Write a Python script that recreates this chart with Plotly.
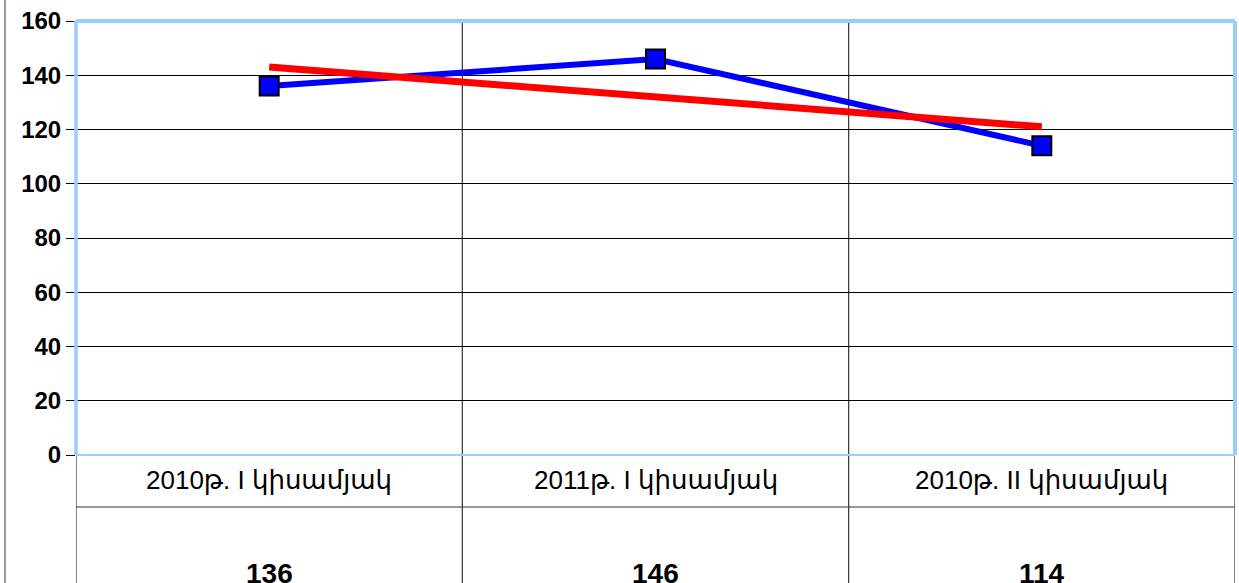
import plotly.graph_objects as go

categories = ["2010թ. I կիսամյակ", "2011թ. I կիսամյակ", "2010թ. II կիսամյակ"]
values = [136, 146, 114]
trend = [143, 132, 121]
y_ticks = [0, 20, 40, 60, 80, 100, 120, 140, 160]

W, H = 1239, 583
L, T = 76, 21
R = W - 1235
B = H - 455

ph = H - T - B
pw = W - L - R

def py(pix):
    return (H - B - pix) / ph

def px(pix):
    return (pix - L) / pw

xpos = list(range(len(categories)))

fig = go.Figure()
fig.add_trace(go.Scatter(
    x=xpos, y=values, mode="lines+markers",
    line=dict(color="#0000FF", width=6),
    marker=dict(symbol="square", size=19, color="#0000FF", line=dict(color="black", width=2)),
    showlegend=False))
fig.add_trace(go.Scatter(
    x=xpos, y=trend, mode="lines",
    line=dict(color="#FF0000", width=7),
    showlegend=False))

shapes = []
for xv in [-0.5, 0.5, 1.5, 2.5]:
    shapes.append(dict(type="line", xref="x", yref="paper", x0=xv, x1=xv,
                       y0=py(600), y1=1 if xv in (0.5, 1.5) else 0,
                       line=dict(color="#333333", width=1.2), layer="below"))
shapes.append(dict(type="line", xref="x", yref="paper", x0=-0.5, x1=2.5,
                   y0=py(507), y1=py(507), line=dict(color="#333333", width=1.2)))
# light-blue plot frame: thick top/left/right, thin bottom
for (x0, y0, x1, y1, w) in [(0, 1, 1, 1, 4), (0, 0, 0, 1, 3.5), (1, 0, 1, 1, 4), (0, 0, 1, 0, 2)]:
    shapes.append(dict(type="line", xref="paper", yref="paper", x0=x0, y0=y0, x1=x1, y1=y1,
                       line=dict(color="#99CCFF", width=w), layer="above"))
shapes.append(dict(type="line", xref="paper", yref="paper", x0=px(5), x1=px(5),
                   y0=py(600), y1=py(-5), line=dict(color="#777777", width=1.5)))

annotations = []
for i, c in enumerate(categories):
    annotations.append(dict(x=i, y=py(480), xref="x", yref="paper", text=c, showarrow=False,
                            font=dict(family="Liberation Sans, DejaVu Sans, Arial", size=26, color="black"),
                            xanchor="center", yanchor="middle"))
    annotations.append(dict(x=i, y=py(573), xref="x", yref="paper", text="<b>%d</b>" % values[i],
                            showarrow=False,
                            font=dict(family="Liberation Sans, Arial", size=28, color="black"),
                            xanchor="center", yanchor="middle"))

fig.update_layout(
    width=W, height=H,
    margin=dict(l=L, r=R, t=T, b=B),
    paper_bgcolor="white", plot_bgcolor="white",
    shapes=shapes, annotations=annotations,
    xaxis=dict(range=[-0.5, 2.5], showticklabels=False, showgrid=False, zeroline=False,
               tickvals=xpos, ticks=""),
    yaxis=dict(range=[0, 160], tickvals=y_ticks, ticktext=["<b>%d</b>" % v for v in y_ticks],
               showgrid=True, gridcolor="black", gridwidth=1, zeroline=False,
               ticks="outside", ticklen=9, tickcolor="black", tickwidth=1,
               showline=True, linecolor="#555555", linewidth=1, ticklabeloverflow="allow",
               tickfont=dict(family="Liberation Sans, Arial", size=24, color="black")),
)

fig.write_html("out.html", config={"displayModeBar": False},
               post_script="document.body.style.margin='0';")
